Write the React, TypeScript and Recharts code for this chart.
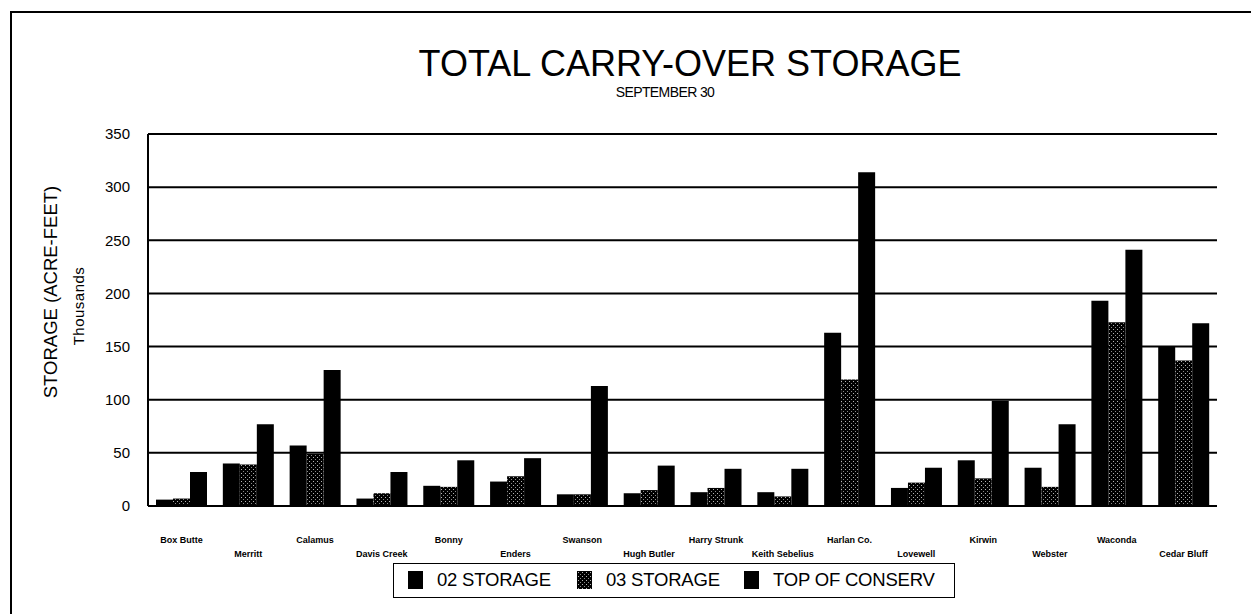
import React from "react";
import { BarChart, Bar, XAxis, YAxis, CartesianGrid } from "recharts";

const categories = [
  "Box Butte", "Merritt", "Calamus", "Davis Creek", "Bonny", "Enders", "Swanson", "Hugh Butler",
  "Harry Strunk", "Keith Sebelius", "Harlan Co.", "Lovewell", "Kirwin", "Webster", "Waconda", "Cedar Bluff",
];
const storage02 = [6, 40, 57, 7, 19, 23, 11, 12, 13, 13, 163, 17, 43, 36, 193, 150];
const storage03 = [7, 39, 49, 12, 18, 28, 11, 15, 17, 9, 119, 22, 26, 18, 173, 137];
const topOfConserv = [32, 77, 128, 32, 43, 45, 113, 38, 35, 35, 314, 36, 99, 77, 241, 172];
const yTicks = [0, 50, 100, 150, 200, 250, 300, 350];
const seriesNames = ["02 STORAGE", "03 STORAGE", "TOP OF CONSERV"];

const data = categories.map((name, i) => ({
  name,
  s02: storage02[i],
  s03: storage03[i],
  toc: topOfConserv[i],
}));

const FONT = "Arial, 'Liberation Sans', Helvetica, sans-serif";

const CatTick = (props: any) => {
  const { x, y, payload, index } = props;
  const dy = index % 2 === 0 ? 29 : 43;
  return (
    <text x={x} y={y + dy} textAnchor="middle" fontSize={9} fontWeight="bold" fontFamily={FONT} fill="#000">
      {payload.value}
    </text>
  );
};

const fills = ["#000", "url(#pat03)", "#000"];
const legendSwatchX = [407, 576, 743];

export default function App() {
  return (
    <div style={{ position: "absolute", left: 0, top: 0, width: 1251, height: 614, background: "#fff", overflow: "hidden", fontFamily: FONT }}>
      <svg width={0} height={0} style={{ position: "absolute" }}>
        <defs>
          <pattern id="pat03" patternUnits="userSpaceOnUse" width={4} height={4}>
            <rect x={0} y={0} width={4} height={4} fill="#000" />
            <rect x={1} y={1} width={1} height={1} fill="#b5b5b5" />
            <rect x={3} y={3} width={1} height={1} fill="#8a8a8a" />
          </pattern>
        </defs>
      </svg>
      <div style={{ position: "absolute", left: 10, top: 11, width: 1300, height: 700, borderLeft: "2px solid #000", borderTop: "2px solid #000" }} />
      <div style={{ position: "absolute", left: 0, width: 1380, top: 44, textAlign: "center", fontSize: 36, lineHeight: "40px", color: "#000" }}>
        TOTAL CARRY-OVER STORAGE
      </div>
      <div style={{ position: "absolute", left: 0, width: 1330, top: 84, textAlign: "center", fontSize: 14, lineHeight: "16px", color: "#000", letterSpacing: -0.6 }}>
        SEPTEMBER 30
      </div>
      <div style={{ position: "absolute", left: 0, top: 0 }}>
        <BarChart width={1251} height={614} data={data} margin={{ top: 134, right: 34, left: 0, bottom: 48 }} barCategoryGap="12%" barGap={0}>
          <CartesianGrid vertical={false} stroke="#000" strokeWidth={2} />
          <XAxis dataKey="name" interval={0} tickLine={false} axisLine={{ stroke: "#000", strokeWidth: 2 }} tick={<CatTick />} height={60} />
          <YAxis
            domain={[0, 350]}
            ticks={yTicks}
            interval={0}
            width={148}
            tickLine={false}
            axisLine={{ stroke: "#000", strokeWidth: 2 }}
            tick={{ fontSize: 15, fill: "#000", fontFamily: FONT }}
            tickMargin={12}
          />
          <YAxis yAxisId="r" orientation="right" domain={[0, 350]} width={0} tick={false} tickLine={false} axisLine={{ stroke: "#000", strokeWidth: 2 }} />
          <Bar dataKey="s02" name={seriesNames[0]} fill={fills[0]} isAnimationActive={false} />
          <Bar dataKey="s03" name={seriesNames[1]} fill={fills[1]} isAnimationActive={false} />
          <Bar dataKey="toc" name={seriesNames[2]} fill={fills[2]} isAnimationActive={false} />
        </BarChart>
      </div>
      <div style={{ position: "absolute", left: 51, top: 292, transform: "translate(-50%, -50%) rotate(-90deg)", fontSize: 18.5, whiteSpace: "nowrap", color: "#000" }}>
        STORAGE (ACRE-FEET)
      </div>
      <div style={{ position: "absolute", left: 78, top: 306, transform: "translate(-50%, -50%) rotate(-90deg)", fontSize: 15, letterSpacing: 0.5, whiteSpace: "nowrap", color: "#000" }}>
        Thousands
      </div>
      <div style={{ position: "absolute", left: 393, top: 563, width: 562, height: 35, boxSizing: "border-box", border: "1.5px solid #000", color: "#000" }}>
        {seriesNames.map((n, i) => (
          <div key={n} style={{ position: "absolute", left: legendSwatchX[i] - 393, top: 7, display: "flex", alignItems: "center", height: 18 }}>
            <svg width={15} height={18} style={{ marginRight: 14 }}>
              <rect x={0} y={0} width={15} height={18} fill={fills[i]} />
            </svg>
            <span style={{ fontSize: 18.5, letterSpacing: -0.2, whiteSpace: "nowrap" }}>{n}</span>
          </div>
        ))}
      </div>
    </div>
  );
}
